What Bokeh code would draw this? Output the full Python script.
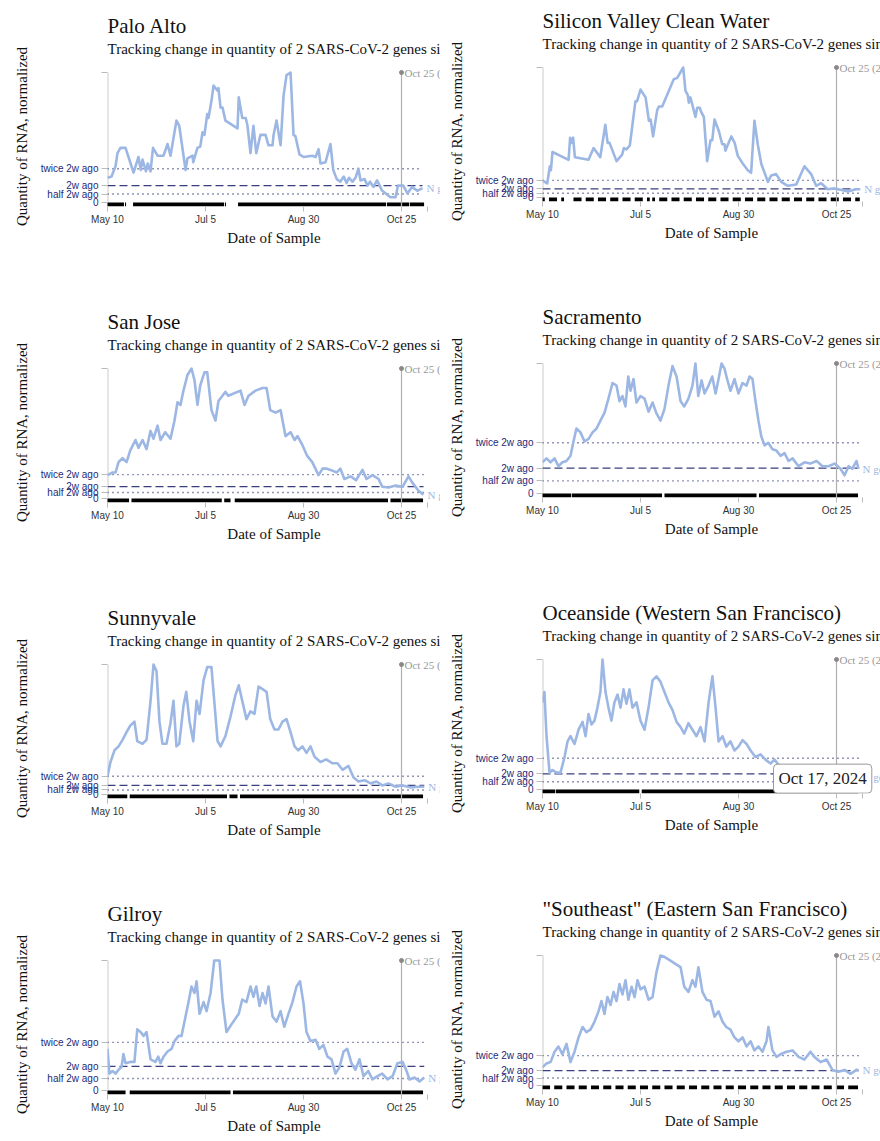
from bokeh.plotting import figure
from bokeh.models import FixedTicker, Label, Range1d, Title
from bokeh.layouts import column, row
from bokeh.embed import file_html
from bokeh.resources import INLINE

SERIF = "Liberation Serif"
SANS = "Liberation Sans"
LINE_COLOR = "#9db7e4"
REF_COLOR = "#222a6e"

# x axis: days since May 10, 2024
x_tick_days = [0, 56, 112, 168]
x_tick_labels = ["May 10", "Jul 5", "Aug 30", "Oct 25"]
AXIS_END = 182.86
marker_day = 168
marker_label = "Oct 25 (2w ago)"
SUBTITLE = "Tracking change in quantity of 2 SARS-CoV-2 genes since 2 weeks ago"
Y_LABEL = "Quantity of RNA, normalized"
X_LABEL = "Date of Sample"
SERIES_LABEL = "N gene"

# ---------------- Palo Alto ----------------
pa_days = [0, 2.3, 4.6, 5.7, 7.4, 10.3, 12, 14.9, 17, 17.7,
           19, 20, 22, 23, 24.6, 26, 28.6, 32, 34.3, 36,
           39.4, 41, 44.6, 45.7, 48.6, 49, 51.4, 53, 54.3, 55.4,
           57, 57.7, 59.4, 60.6, 62.9, 63.4, 64.6, 65.7, 67.4, 74.3,
           75, 77, 79, 80, 81.7, 83.4, 85, 87.4, 90.3, 92,
           94.3, 94.9, 96.6, 97.7, 98.9, 100.6, 102.3, 104.6, 106.3, 107.4,
           109.7, 112, 117, 118.9, 120.6, 121.7, 124.6, 127.4, 129, 131,
           133, 135, 136.6, 138, 140, 141.7, 143.4, 144.6, 146.9, 148.6,
           150, 152, 154, 157, 161.7, 164.6, 166, 169, 171.4, 174,
           177, 180]
pa_vals = [0.19, 0.2, 0.28, 0.38, 0.42, 0.42, 0.35, 0.23, 0.32, 0.35,
           0.25, 0.33, 0.24, 0.3, 0.24, 0.42, 0.36, 0.36, 0.45, 0.36,
           0.63, 0.59, 0.25, 0.34, 0.36, 0.31, 0.42, 0.43, 0.54, 0.52,
           0.68, 0.65, 0.78, 0.9, 0.86, 0.88, 0.73, 0.73, 0.63, 0.57,
           0.81, 0.65, 0.65, 0.59, 0.38, 0.59, 0.38, 0.52, 0.52, 0.44,
           0.44, 0.52, 0.63, 0.54, 0.44, 0.82, 0.98, 1.0, 0.52, 0.51,
           0.37, 0.35, 0.36, 0.35, 0.41, 0.3, 0.31, 0.45, 0.25, 0.18,
           0.16, 0.2, 0.15, 0.19, 0.16, 0.19, 0.26, 0.17, 0.18, 0.13,
           0.16, 0.12, 0.17, 0.09, 0.04, 0.04, 0.13, 0.13, 0.07, 0.12,
           0.09, 0.11]
pa_2w = 0.13
pa_rug_start = [0, 10.3, 14.9, 67.4, 74.9, 160, 168.6, 173]
pa_rug_end = [9.1, 10.3, 66.3, 67.4, 158.9, 167.4, 172, 180.6]

# ---------------- Silicon Valley Clean Water ----------------
sv_days = [0.4, 2.7, 4.2, 4.8, 5.7, 14.9, 15.8, 16.7, 17.5, 18.5,
           26.3, 29.2, 33, 35.9, 37.2, 38.3, 42.3, 45.5, 46.5, 48,
           49.9, 53.1, 54, 56, 58.9, 60.8, 61.8, 63.2, 65.5, 66.5,
           68.4, 75, 77, 80.4, 81.7, 83, 83.6, 84.5, 85.5, 87.4,
           88.4, 89.9, 90.6, 92.2, 94.1, 96, 97, 98.3, 100.8, 102.7,
           104, 104.5, 106, 107.9, 109.8, 111.6, 114.5, 117.3, 119.2, 121.1,
           123, 125, 128.8, 130.7, 133.5, 136.4, 140.2, 145, 149.7, 153.5,
           156.4, 159.2, 163, 166.8, 171.6, 174.5, 179.2, 181.5]
sv_vals = [0.128, 0.108, 0.24, 0.21, 0.35, 0.29, 0.46, 0.42, 0.46, 0.31,
           0.29, 0.38, 0.31, 0.56, 0.42, 0.42, 0.28, 0.33, 0.38, 0.37,
           0.4, 0.74, 0.74, 0.83, 0.77, 0.59, 0.6, 0.47, 0.67, 0.7,
           0.7, 0.91, 0.92, 1.0, 0.82, 0.79, 0.73, 0.77, 0.72, 0.62,
           0.69, 0.69, 0.66, 0.62, 0.28, 0.44, 0.44, 0.6, 0.51, 0.41,
           0.41, 0.36, 0.41, 0.47, 0.42, 0.32, 0.26, 0.21, 0.19, 0.59,
           0.41, 0.26, 0.12, 0.17, 0.18, 0.12, 0.09, 0.1, 0.24, 0.18,
           0.09, 0.11, 0.064, 0.07, 0.056, 0.046, 0.064, 0.064]
sv_2w = 0.066
sv_rug_start = [0, 4, 11, 18, 25, 32, 39, 46, 53, 60, 63, 67, 74, 81,
                88, 95, 102, 109, 116, 123, 130, 137, 144, 151, 158, 165, 172, 179]
sv_rug_end = [1, 8, 12, 22, 29, 36, 43, 50, 57, 61, 64, 71, 78, 85,
              92, 99, 106, 113, 120, 127, 134, 141, 148, 155, 162, 169, 176, 181]

# ---------------- San Jose ----------------
sj_days = [0, 2.9, 4.6, 6.3, 8.6, 10.9, 13, 16, 17.7, 20,
           22.3, 24.6, 26.3, 28.6, 30.3, 33, 36, 38.3, 40, 41.7,
           43.4, 45.7, 48, 49.7, 51.4, 53, 55.4, 57, 59.4, 61.7,
           63.4, 65.7, 67.4, 69, 76, 78.3, 80.6, 84.6, 88.6, 90.9,
           93, 96, 98.9, 101.7, 104.6, 106.9, 108.6, 111.4, 114, 117,
           120.6, 122.9, 125, 127.4, 131, 133, 135.4, 138.9, 142, 145.7,
           148, 151.4, 154.9, 157, 160.6, 164.6, 168.6, 172, 174.3, 177.7,
           180.6]
sj_vals = [0.18, 0.2, 0.2, 0.28, 0.31, 0.28, 0.37, 0.45, 0.39, 0.45,
           0.38, 0.52, 0.46, 0.56, 0.45, 0.51, 0.46, 0.6, 0.74, 0.72,
           0.83, 0.95, 1.0, 0.91, 0.72, 0.87, 0.97, 0.97, 0.68, 0.6,
           0.75, 0.79, 0.82, 0.79, 0.83, 0.72, 0.79, 0.83, 0.85, 0.85,
           0.68, 0.66, 0.68, 0.48, 0.51, 0.45, 0.48, 0.41, 0.33, 0.28,
           0.18, 0.23, 0.23, 0.22, 0.2, 0.23, 0.15, 0.17, 0.14, 0.22,
           0.15, 0.18, 0.15, 0.09, 0.085, 0.1, 0.09, 0.17, 0.12, 0.06,
           0.03]
sj_2w = 0.092
sj_rug_start = [0, 14, 67, 73, 162]
sj_rug_end = [12, 65, 70, 160, 180]

# ---------------- Sacramento ----------------
sac_days = [0, 2.3, 4.6, 6.9, 9.1, 11.4, 13.7, 16, 17.7, 19.4,
            21.7, 24, 26.3, 28.6, 30.9, 33.1, 35.4, 37.7, 40, 42.3,
            44, 45.7, 47.4, 49, 50.3, 52, 53.7, 56, 58.3, 60.6,
            62.9, 65, 67.4, 69.7, 72, 74.3, 76.6, 78.9, 81, 83.4,
            85.7, 87.4, 89, 90.9, 92.6, 94.9, 97, 98.9, 100.6, 102.3,
            104, 105.7, 107.4, 109.7, 112, 114.3, 116.6, 118.3, 120, 121.7,
            123.4, 125, 126.9, 129, 131.4, 133.7, 136, 138.3, 140.6, 142.9,
            146.3, 149.7, 153, 156.6, 160, 163.4, 166.9, 170.3, 172.6, 174.9,
            177, 179.4, 180.6]
sac_vals = [0.24, 0.27, 0.24, 0.27, 0.21, 0.24, 0.25, 0.29, 0.4, 0.5,
            0.47, 0.4, 0.42, 0.47, 0.5, 0.56, 0.62, 0.73, 0.85, 0.83,
            0.71, 0.75, 0.67, 0.9, 0.79, 0.88, 0.7, 0.75, 0.73, 0.63,
            0.7, 0.62, 0.56, 0.65, 0.83, 0.98, 0.9, 0.71, 0.67, 0.73,
            0.83, 1.0, 0.75, 0.87, 0.77, 0.83, 0.9, 0.77, 0.88, 1.0,
            0.96, 0.87, 0.79, 0.88, 0.77, 0.85, 0.83, 0.9, 0.88, 0.71,
            0.56, 0.44, 0.37, 0.39, 0.34, 0.33, 0.29, 0.31, 0.25, 0.27,
            0.21, 0.24, 0.23, 0.25, 0.21, 0.21, 0.23, 0.19, 0.14, 0.21,
            0.19, 0.25, 0.19]
sac_2w = 0.195
sac_rug_start = [0, 17, 70, 124]
sac_rug_end = [16, 68, 122, 180]

# ---------------- Sunnyvale ----------------
sun_days = [0, 1.7, 4, 6.3, 8.6, 10.9, 13, 15.4, 17, 20,
            22.3, 24.6, 26.3, 28, 29.7, 31.4, 33.7, 36, 37.7, 39.4,
            41, 43.4, 45, 46.9, 49, 50.9, 52.6, 54.9, 57, 59.4,
            61, 62.9, 64.6, 67.4, 70.3, 73, 75, 77, 79.4, 81.7,
            84, 86.3, 88.6, 90.9, 93, 95.4, 97.7, 100, 102.3, 104.6,
            106.9, 109, 111.4, 113.7, 116, 118.3, 121.7, 125, 128.6, 131.4,
            134.3, 137.7, 140.6, 143.4, 146.9, 150.3, 153.7, 157, 160.6, 164.6,
            168.6, 173, 177.7, 181]
sun_vals = [0.14, 0.25, 0.34, 0.37, 0.42, 0.48, 0.53, 0.56, 0.41, 0.39,
            0.42, 0.72, 1.0, 0.95, 0.56, 0.39, 0.39, 0.55, 0.72, 0.37,
            0.39, 0.68, 0.79, 0.56, 0.41, 0.72, 0.62, 0.88, 0.98, 0.98,
            0.72, 0.41, 0.37, 0.45, 0.6, 0.76, 0.84, 0.72, 0.58, 0.64,
            0.62, 0.83, 0.81, 0.79, 0.58, 0.5, 0.5, 0.56, 0.58, 0.48,
            0.37, 0.34, 0.37, 0.32, 0.37, 0.29, 0.25, 0.27, 0.24, 0.24,
            0.19, 0.22, 0.13, 0.1, 0.11, 0.085, 0.1, 0.07, 0.085, 0.06,
            0.07, 0.055, 0.06, 0.06]
sun_2w = 0.07
sun_rug_start = [0, 13, 70, 76]
sun_rug_end = [11, 68, 74, 180]

# ---------------- Oceanside ----------------
oce_days = [0, 1.1, 2.3, 4, 5.7, 8, 10.3, 12.6, 14.3, 16,
            18.3, 20.6, 22.9, 24.6, 26.3, 28, 29.7, 31.4, 33.1, 34.3,
            36, 37.7, 39.4, 41.1, 42.9, 44.6, 46.3, 48, 49.7, 51.4,
            53.7, 56, 58.3, 60.6, 62.9, 65.1, 67.4, 69.7, 72, 74.3,
            76.6, 78.9, 81, 83.4, 85.7, 88, 90.3, 92.6, 94.9, 97.1,
            98.9, 100.6, 102.9, 105, 107.4, 109.7, 112, 114.3, 116.6, 118.9,
            121.7, 124.6, 127.4, 130.3, 132.6, 136, 141.7, 147.4, 153, 158.9,
            164.6, 170.3, 176, 180.6]
oce_vals = [0.67, 0.75, 0.41, 0.13, 0.15, 0.13, 0.13, 0.25, 0.37, 0.41,
            0.35, 0.46, 0.52, 0.41, 0.58, 0.5, 0.53, 0.63, 0.75, 1.0,
            0.75, 0.63, 0.53, 0.67, 0.73, 0.63, 0.77, 0.66, 0.77, 0.63,
            0.67, 0.53, 0.46, 0.63, 0.84, 0.87, 0.83, 0.75, 0.67, 0.61,
            0.52, 0.48, 0.43, 0.51, 0.46, 0.41, 0.48, 0.37, 0.67, 0.87,
            0.63, 0.37, 0.41, 0.33, 0.37, 0.3, 0.33, 0.38, 0.35, 0.3,
            0.25, 0.27, 0.23, 0.2, 0.23, 0.17, 0.15, 0.17, 0.13, 0.12,
            0.1, 0.1, 0.09, 0.1]
oce_2w = 0.12
oce_rug_start = [0, 8, 57]
oce_rug_end = [7, 55, 180]
tooltip_text = "Oct 17, 2024"
tooltip_day = 132
tooltip_val = 0.195

# ---------------- Gilroy ----------------
gil_days = [0, 1.1, 2.9, 4.6, 6.3, 8, 9.1, 10.3, 13, 15.4,
            17, 18.9, 20.6, 22.3, 24.6, 27.4, 29, 30.3, 32, 34.3,
            36.6, 38.3, 40.6, 42.3, 44.6, 46.3, 48, 49.7, 50.9, 52.6,
            54.9, 56.6, 58.9, 61, 64, 65.7, 68, 71.4, 75, 77,
            79.4, 81.7, 83.4, 85, 86.9, 88.6, 90.3, 92, 94.3, 96.6,
            98.9, 101, 103.4, 105.7, 108, 110, 112, 113.7, 116, 118.9,
            121, 123.4, 125.7, 128, 130.3, 132.6, 134.9, 137, 139.4, 141.7,
            144, 146.3, 149, 151.4, 154.3, 157, 160, 162.9, 165.7, 168.6,
            170.9, 172.6, 175.4, 178.3, 181]
gil_vals = [0.32, 0.13, 0.15, 0.13, 0.16, 0.18, 0.28, 0.21, 0.22, 0.22,
            0.47, 0.45, 0.42, 0.45, 0.24, 0.22, 0.26, 0.21, 0.26, 0.3,
            0.32, 0.38, 0.42, 0.42, 0.57, 0.68, 0.8, 0.75, 0.84, 0.59,
            0.68, 0.61, 0.75, 1.0, 1.0, 0.7, 0.45, 0.52, 0.59, 0.7,
            0.68, 0.8, 0.72, 0.8, 0.65, 0.75, 0.67, 0.8, 0.57, 0.53,
            0.61, 0.49, 0.59, 0.68, 0.8, 0.84, 0.67, 0.45, 0.38, 0.39,
            0.32, 0.35, 0.26, 0.24, 0.13, 0.18, 0.3, 0.32, 0.21, 0.16,
            0.24, 0.11, 0.15, 0.085, 0.11, 0.13, 0.085, 0.11, 0.21, 0.22,
            0.15, 0.085, 0.1, 0.07, 0.1]
gil_2w = 0.185
gil_rug_start = [0, 13, 72]
gil_rug_end = [10, 70, 180]

# ---------------- Southeast ----------------
se_days = [0, 2.3, 4.6, 6.9, 9.1, 11.4, 13.7, 16, 18.3, 20.6,
           22.9, 25.1, 27.4, 29.7, 32, 33.7, 35.4, 37.1, 38.9, 40.6,
           42.3, 44, 45.7, 47.4, 49.1, 50.9, 52.6, 54.3, 56, 58.3,
           60.6, 62.9, 65.1, 67.4, 69.7, 73.1, 76.6, 78.9, 81, 83.4,
           85.7, 87.4, 89.1, 91.4, 93.7, 96, 98.3, 100.6, 102.9, 105,
           107.4, 109.7, 112, 114.3, 116.6, 118.9, 121.1, 123.4, 125.7, 128,
           129.1, 131.4, 133.7, 136, 139.4, 142.9, 146.3, 149.7, 153.1, 155.4,
           158.9, 162.3, 165.7, 169.1, 172.6, 176, 179.4, 180.6]
se_vals = [0.14, 0.17, 0.18, 0.26, 0.3, 0.24, 0.32, 0.18, 0.26, 0.37,
           0.45, 0.41, 0.43, 0.49, 0.57, 0.65, 0.55, 0.68, 0.62, 0.72,
           0.65, 0.78, 0.7, 0.81, 0.66, 0.76, 0.68, 0.81, 0.74, 0.76,
           0.66, 0.68, 0.87, 1.0, 0.99, 0.96, 0.93, 0.91, 0.76, 0.72,
           0.81, 0.76, 0.91, 0.72, 0.66, 0.65, 0.53, 0.57, 0.49, 0.45,
           0.43, 0.37, 0.34, 0.37, 0.3, 0.34, 0.27, 0.3, 0.26, 0.34,
           0.45, 0.27, 0.22, 0.24, 0.26, 0.27, 0.22, 0.2, 0.26, 0.22,
           0.18, 0.2, 0.12, 0.105, 0.12, 0.09, 0.12, 0.12]
se_2w = 0.115
se_rug_start = [0, 7, 14, 21, 28, 35, 42, 49, 56, 63, 70, 77, 84, 91,
                98, 105, 112, 119, 126, 133, 140, 147, 154, 161, 168, 175]
se_rug_end = [4, 11, 18, 25, 32, 39, 46, 53, 60, 67, 74, 81, 88, 95,
              102, 109, 116, 123, 130, 137, 144, 151, 158, 165, 172, 180]

sites = [
    ("Palo Alto", pa_days, pa_vals, pa_2w, pa_rug_start, pa_rug_end),
    ("Silicon Valley Clean Water", sv_days, sv_vals, sv_2w, sv_rug_start, sv_rug_end),
    ("San Jose", sj_days, sj_vals, sj_2w, sj_rug_start, sj_rug_end),
    ("Sacramento", sac_days, sac_vals, sac_2w, sac_rug_start, sac_rug_end),
    ("Sunnyvale", sun_days, sun_vals, sun_2w, sun_rug_start, sun_rug_end),
    ("Oceanside (Western San Francisco)", oce_days, oce_vals, oce_2w, oce_rug_start, oce_rug_end),
    ("Gilroy", gil_days, gil_vals, gil_2w, gil_rug_start, gil_rug_end),
    ("\"Southeast\" (Eastern San Francisco)", se_days, se_vals, se_2w, se_rug_start, se_rug_end),
]

PX_PER_DAY = 1.75
PX_PER_UNIT = 130.0
FIG_W = 440
FRAME_H = 140
Y_START = -4 / PX_PER_UNIT
Y_END = 1 + 6 / PX_PER_UNIT


def make_panel(site, col, height, tb, tooltip=False):
    name, days, vals, w2, rs, re_ = site
    lb = 107 if col == 0 else 102
    frame_w = FIG_W - lb
    x_end = frame_w / PX_PER_DAY
    bb = height - tb - FRAME_H
    p = figure(width=FIG_W, height=height,
               x_range=Range1d(0, x_end), y_range=Range1d(Y_START, Y_END),
               output_backend="svg", toolbar_location=None, title=None,
               min_border_left=lb, min_border_right=0,
               min_border_top=tb, min_border_bottom=bb)
    p.outline_line_color = None
    p.xgrid.visible = False
    p.ygrid.visible = False
    p.background_fill_color = "white"
    p.border_fill_color = "white"

    # subtitle first (nearest the plot), then the title above it
    p.add_layout(Title(text=SUBTITLE, text_font=SERIF, text_font_size="15px",
                       text_font_style="normal", text_color="#111111",
                       vertical_align="top", standoff=16, offset=0), "above")
    p.add_layout(Title(text=name, text_font=SERIF, text_font_size="21px",
                       text_font_style="normal", text_color="#111111",
                       vertical_align="top", standoff=-14, offset=0), "above")

    half, twice = w2 / 2, w2 * 2
    last = days[-1]

    # y axis line (ends at the top tick)
    p.segment(x0=[0], y0=[Y_START], x1=[0], y1=[1.0],
              line_color="#cccccc", line_width=2)

    # rug of sample dates
    p.quad(left=[s - 0.3 for s in rs], right=[e + 0.3 for e in re_],
           bottom=Y_START, top=0, color="black", line_width=0)

    # reference lines
    p.segment(x0=[0, 0], y0=[twice, half], x1=[last, last], y1=[twice, half],
              line_color=REF_COLOR, line_width=1.4, line_dash="1 4")
    p.segment(x0=[0], y0=[w2], x1=[last], y1=[w2],
              line_color=REF_COLOR, line_width=1.2, line_dash="8 4", line_alpha=0.9)

    # 2w ago marker
    p.segment(x0=[marker_day], y0=[Y_START], x1=[marker_day], y1=[1.0],
              line_color="#b0b0b0", line_width=1.2)
    p.scatter(x=[marker_day], y=[1.0], size=4, color="#888888")
    p.add_layout(Label(x=marker_day, y=1.0, text=marker_label, x_offset=3,
                       text_baseline="middle", text_font=SERIF,
                       text_font_size="11px", text_color="#999999"))

    # series
    p.line(days, vals, line_color=LINE_COLOR, line_width=2.6, line_join="round")
    p.add_layout(Label(x=last, y=vals[-1], text=SERIES_LABEL, x_offset=4,
                       text_baseline="middle", text_font=SERIF,
                       text_font_size="11px", text_color=LINE_COLOR))

    # axes
    xt = x_tick_days + [AXIS_END]
    p.xaxis.ticker = FixedTicker(ticks=xt)
    xo = {d: l for d, l in zip(x_tick_days, x_tick_labels)}
    xo[AXIS_END] = ""
    p.xaxis.major_label_overrides = xo
    p.xaxis.axis_label = X_LABEL
    p.yaxis.ticker = FixedTicker(ticks=[0, half, w2, twice, 1.0])
    p.yaxis.major_label_overrides = {0: "0", half: "half 2w ago", w2: "2w ago",
                                     twice: "twice 2w ago", 1.0: ""}
    p.yaxis.axis_label = Y_LABEL
    for ax in (p.xaxis, p.yaxis):
        ax.axis_line_color = None
        ax.major_tick_line_color = "#bbbbbb"
        ax.minor_tick_line_color = None
        ax.major_tick_in = 0
        ax.major_tick_out = 5
        ax.major_label_text_font = SANS
        ax.major_label_text_font_size = "10px"
        ax.major_label_standoff = 2
        ax.axis_label_text_font = SERIF
        ax.axis_label_text_font_size = "15px"
        ax.axis_label_text_font_style = "normal"
        ax.axis_label_text_color = "#111111"
    p.xaxis.major_label_text_color = "#333333"
    p.yaxis.major_label_text_color = "#1d2a78"
    p.yaxis.major_label_standoff = 3
    p.yaxis.major_tick_out = 6
    p.xaxis.axis_label_standoff = 2
    p.yaxis.axis_label_standoff = 8

    if tooltip:
        p.add_layout(Label(x=tooltip_day, y=tooltip_val, text=tooltip_text,
                           text_align="left", text_baseline="top",
                           text_font=SERIF, text_font_size="17px",
                           text_color="#222222", background_fill_color="white",
                           border_line_color="#999999", border_line_width=1,
                           padding=5, border_radius=4))
    return p


heights = [304, 296, 296, 245]
left_tops = [66, 58, 58, 58]
right_tops = [61, 53, 53, 53]
left_figs = []
right_figs = []
for i in range(4):
    left_figs.append(make_panel(sites[2 * i], 0, heights[i], left_tops[i]))
    right_figs.append(make_panel(sites[2 * i + 1], 1, heights[i], right_tops[i],
                                 tooltip=(i == 2)))

layout = row(column(*left_figs), column(*right_figs))
open("out.html", "w").write(file_html(layout, INLINE))
